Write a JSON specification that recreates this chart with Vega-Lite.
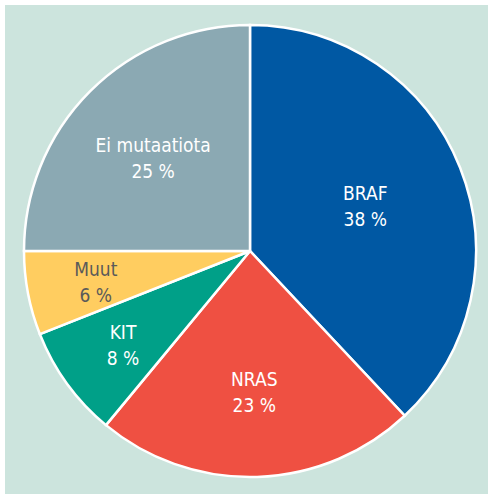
{
  "$schema": "https://vega.github.io/schema/vega-lite/v6.json",
  "autosize": "none",
  "width": 490,
  "height": 492,
  "padding": {"left": 5, "top": 5, "right": 0, "bottom": 0},
  "background": "white",
  "view": {"fill": "#cce4dd", "stroke": null},
  "data": {
    "values": [
      {"name": "BRAF", "value": 38, "order": 1},
      {"name": "NRAS", "value": 23, "order": 2},
      {"name": "KIT", "value": 8, "order": 3},
      {"name": "Muut", "value": 6, "order": 4},
      {"name": "Ei mutaatiota", "value": 25, "order": 5}
    ]
  },
  "transform": [
    {"stack": "value", "groupby": [], "sort": [{"field": "order", "order": "ascending"}], "as": ["v0", "v1"]},
    {"calculate": "(datum.v0 + datum.v1) / 2", "as": "mid"},
    {"calculate": "datum.name + '\\n' + datum.value + ' %'", "as": "label"}
  ],
  "layer": [
    {
      "mark": {"type": "arc", "outerRadius": 226, "stroke": "white", "strokeWidth": 2.5},
      "encoding": {
        "theta": {"field": "v0", "type": "quantitative", "stack": null, "scale": {"domain": [0, 100]}},
        "theta2": {"field": "v1"},
        "color": {
          "field": "name",
          "type": "nominal",
          "scale": {
            "domain": ["BRAF", "NRAS", "KIT", "Muut", "Ei mutaatiota"],
            "range": ["#0058a3", "#ef5042", "#00a088", "#ffcd60", "#8ba9b3"]
          },
          "legend": null
        }
      }
    },
    {
      "transform": [{"filter": "datum.name === 'BRAF'"}],
      "mark": {
        "type": "text", "radius": 124, "dy": -11, "fontSize": 19,
        "font": "DejaVu Sans Condensed, sans-serif",
        "lineBreak": "\n", "lineHeight": 26, "align": "center", "baseline": "middle", "color": "white"
      },
      "encoding": {
        "theta": {"field": "mid", "type": "quantitative", "stack": null, "scale": {"domain": [0, 100]}},
        "text": {"field": "label"}
      }
    },
    {
      "transform": [{"filter": "datum.name === 'NRAS' || datum.name === 'Ei mutaatiota'"}],
      "mark": {
        "type": "text", "radius": 137, "dy": -8, "fontSize": 19,
        "font": "DejaVu Sans Condensed, sans-serif",
        "lineBreak": "\n", "lineHeight": 26, "align": "center", "baseline": "middle", "color": "white"
      },
      "encoding": {
        "theta": {"field": "mid", "type": "quantitative", "stack": null, "scale": {"domain": [0, 100]}},
        "text": {"field": "label"}
      }
    },
    {
      "transform": [{"filter": "datum.name === 'KIT' || datum.name === 'Muut'"}],
      "mark": {
        "type": "text", "radius": 157, "dy": -10, "fontSize": 19,
        "font": "DejaVu Sans Condensed, sans-serif",
        "lineBreak": "\n", "lineHeight": 26, "align": "center", "baseline": "middle"
      },
      "encoding": {
        "theta": {"field": "mid", "type": "quantitative", "stack": null, "scale": {"domain": [0, 100]}},
        "text": {"field": "label"},
        "color": {
          "condition": {"test": "datum.name === 'Muut'", "value": "#5a5a5a"},
          "value": "white"
        }
      }
    }
  ]
}
